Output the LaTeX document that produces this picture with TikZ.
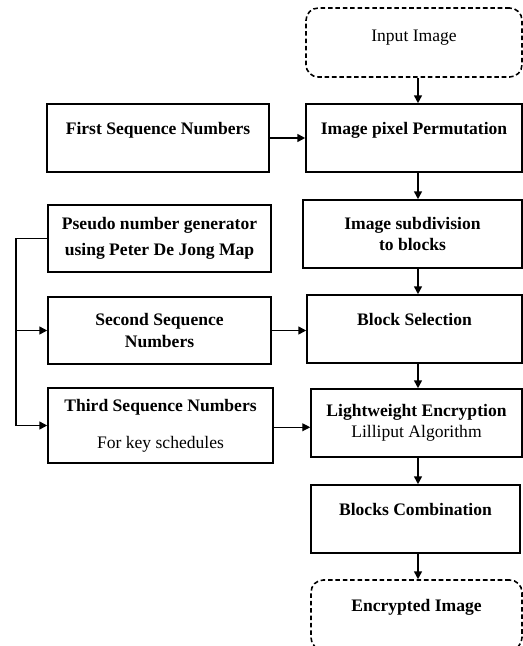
\documentclass[tikz,border=0pt]{standalone}
\usepackage{fontspec}
\setmainfont{Liberation Serif}
\usetikzlibrary{arrows.meta}

\begin{document}
\begin{tikzpicture}[x=0.02cm, y=-0.02cm,
        box/.style={draw, line width=0.9pt, rectangle, align=center, inner sep=2pt,
            font=\fontsize{10}{12}\selectfont\bfseries},
        endbox/.style={box, dashed, dash pattern=on 2.6pt off 1.6pt, rounded corners=7pt},
        toptext/.style={text depth=11pt},
        arr/.style={line width=0.9pt, -{Triangle[length=4.5pt, width=4.5pt]}}]
        \useasboundingbox (0, 0) rectangle (523, 646);
        \clip (0, 0) rectangle (523, 646);
        % right column
        \node[endbox, text depth=8pt, minimum width=4.32cm, minimum height=1.38cm] (In) at (414, 42.5) {\mdseries Input Image};
        \node[box, toptext, minimum width=4.32cm, minimum height=1.36cm] (Perm) at (414, 138) {Image pixel Permutation};
        \node[box, minimum width=4.38cm, minimum height=1.36cm] (Sub) at (412.5, 234) {Image subdivision\\to blocks};
        \node[box, toptext, minimum width=4.3cm, minimum height=1.36cm] (Sel) at (414.5, 329) {Block Selection};
        \node[box, minimum width=4.22cm, minimum height=1.36cm] (Enc) at (416.5, 423) {Lightweight Encryption\\\mdseries Lilliput Algorithm};
        \node[box, toptext, minimum width=4.18cm, minimum height=1.36cm] (Comb) at (415.5, 519) {Blocks Combination};
        \node[endbox, toptext, minimum width=4.22cm, minimum height=1.4cm] (Out) at (416.5, 615) {Encrypted Image};
        % left column
        \node[box, toptext, minimum width=4.44cm, minimum height=1.36cm] (S1) at (158, 138) {First Sequence Numbers};
        \node[box, minimum width=4.46cm, minimum height=1.34cm] (Gen) at (159.5, 238.5) {Pseudo number generator\\[3pt]using Peter De Jong Map};
        \node[box, minimum width=4.46cm, minimum height=1.34cm] (S2) at (159.5, 330.5) {Second Sequence\\Numbers};
        \node[box, minimum width=4.5cm, minimum height=1.5cm] (S3) at (160.5, 425.5) {Third Sequence Numbers\\[9pt]\mdseries For key schedules};
        \coordinate (col) at (418, 0);
        \coordinate (bus) at (16, 0);
        \draw[arr] (In.south -| col) -- (Perm.north -| col);
        \draw[arr] (Perm.south -| col) -- (Sub.north -| col);
        \draw[arr] (Sub.south -| col) -- (Sel.north -| col);
        \draw[arr] (Sel.south -| col) -- (Enc.north -| col);
        \draw[arr] (Enc.south -| col) -- (Comb.north -| col);
        \draw[arr] (Comb.south -| col) -- (Out.north -| col);
        \draw[arr] (S1.east) -- (Perm.west);
        \draw[arr] (S2.east) -- (S2.east -| Sel.west);
        \draw[arr, line width=0.6pt] ([yshift=-1pt]S3.east) -- ([yshift=-1pt]S3.east -| Enc.west);
        \draw[arr] (Gen.west) -- (Gen.west -| bus) |- (S3.west);
        \draw[arr] (S2.west -| bus) -- (S2.west);
    \end{tikzpicture}
\end{document}
